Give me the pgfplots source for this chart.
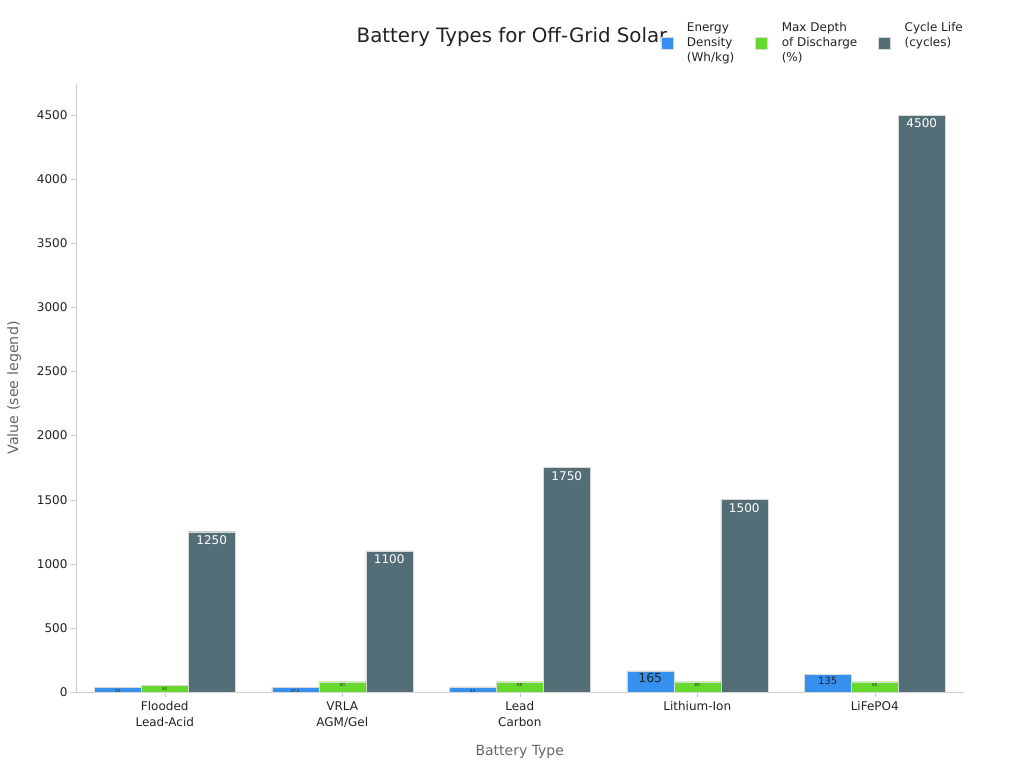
\documentclass[border=0pt]{standalone}
\usepackage{pgfplots}
\pgfplotsset{compat=1.18}
\usepackage{fontspec}
\setmainfont{DejaVu Sans}
\definecolor{cblue}{HTML}{3590EE}
\definecolor{cgreen}{HTML}{66D92C}
\definecolor{cgray}{HTML}{546E78}
\definecolor{axgray}{HTML}{CCCCCC}
\definecolor{labgray}{HTML}{666666}
\definecolor{txt}{HTML}{222222}
\begin{document}
\begin{tikzpicture}
\path[use as bounding box] (-76pt,-76pt) rectangle (948pt,692pt);
\begin{axis}[
  at={(0,0)}, anchor=south west,
  scale only axis, width=887.5pt, height=608pt,
  ybar, bar width=47pt,
  xmin=-0.5, xmax=4.5, ymin=0, ymax=4742,
  axis x line*=bottom, axis y line*=left,
  axis line style={axgray},
  xtick=data,
  xticklabels={{Flooded\\Lead-Acid},{VRLA\\AGM/Gel},{Lead\\Carbon},{Lithium-Ion},{LiFePO4}},
  xticklabel style={align=center, font=\fontsize{12}{16}\selectfont, text=txt, yshift=-1pt},
  ytick={0,500,...,4500},
  yticklabel style={font=\fontsize{12}{14}\selectfont, text=txt},
  /pgf/number format/1000 sep={},
  /pgf/number format/assume math mode=true,
  tick align=outside, major tick length=5pt,
  tick style={axgray},
  xlabel={Battery Type}, ylabel={Value (see legend)},
  xlabel style={font=\fontsize{14}{16}\selectfont, text=labgray, yshift=-11pt},
  ylabel style={font=\fontsize{14.3}{16}\selectfont, text=labgray, yshift=9pt},
  title={Battery Types for Off-Grid Solar},
  title style={at={(axis description cs:0.4913,1)}, anchor=center, yshift=41pt, font=\fontsize{19.8}{22}\selectfont, text=txt},
  legend columns=3,
  legend style={at={(axis description cs:0.655,1.108)}, anchor=north west, draw=none, fill=none,
    font=\fontsize{12}{15}\selectfont, text=txt, cells={align=left},
    /tikz/every odd column/.append style={column sep=12pt},
    /tikz/every even column/.append style={column sep=19pt}},
  legend image code/.code={\fill[#1] (0pt,-6pt) rectangle (12pt,6pt);},
  visualization depends on={rawy \as \rawy},
  nodes near coords,
]
\addplot[fill=cblue, draw=white!85!black, line width=0.4pt, bar shift=-47pt,
  nodes near coords={\ifdim\rawy pt>150pt \fontsize{12.5}{13}\selectfont\else\ifdim\rawy pt>100pt \fontsize{10}{11}\selectfont\else\fontsize{4}{4}\selectfont\fi\fi\pgfmathprintnumber{\rawy}},
  every node near coord/.append style={anchor=north, text=txt, inner sep=2pt}]
  coordinates {(0,35) (1,37.5) (2,40) (3,165) (4,135)};
\addlegendentry{Energy\\Density\\(Wh/kg)}
\addplot[fill=cgreen, draw=white!85!black, line width=0.4pt, bar shift=0pt,
  nodes near coords={\fontsize{4}{4}\selectfont\pgfmathprintnumber{\rawy}},
  every node near coord/.append style={anchor=north, text=txt, inner sep=1.5pt}]
  coordinates {(0,50) (1,80) (2,80) (3,80) (4,80)};
\addlegendentry{Max Depth\\of Discharge\\(\%)}
\addplot[fill=cgray, draw=white!85!black, line width=0.4pt, bar shift=47pt,
  nodes near coords={\fontsize{12}{13}\selectfont\pgfmathprintnumber{\rawy}},
  every node near coord/.append style={anchor=north, text=white, inner sep=3.5pt}]
  coordinates {(0,1250) (1,1100) (2,1750) (3,1500) (4,4500)};
\addlegendentry{Cycle Life\\(cycles)\\\strut}
\end{axis}
\end{tikzpicture}
\end{document}
